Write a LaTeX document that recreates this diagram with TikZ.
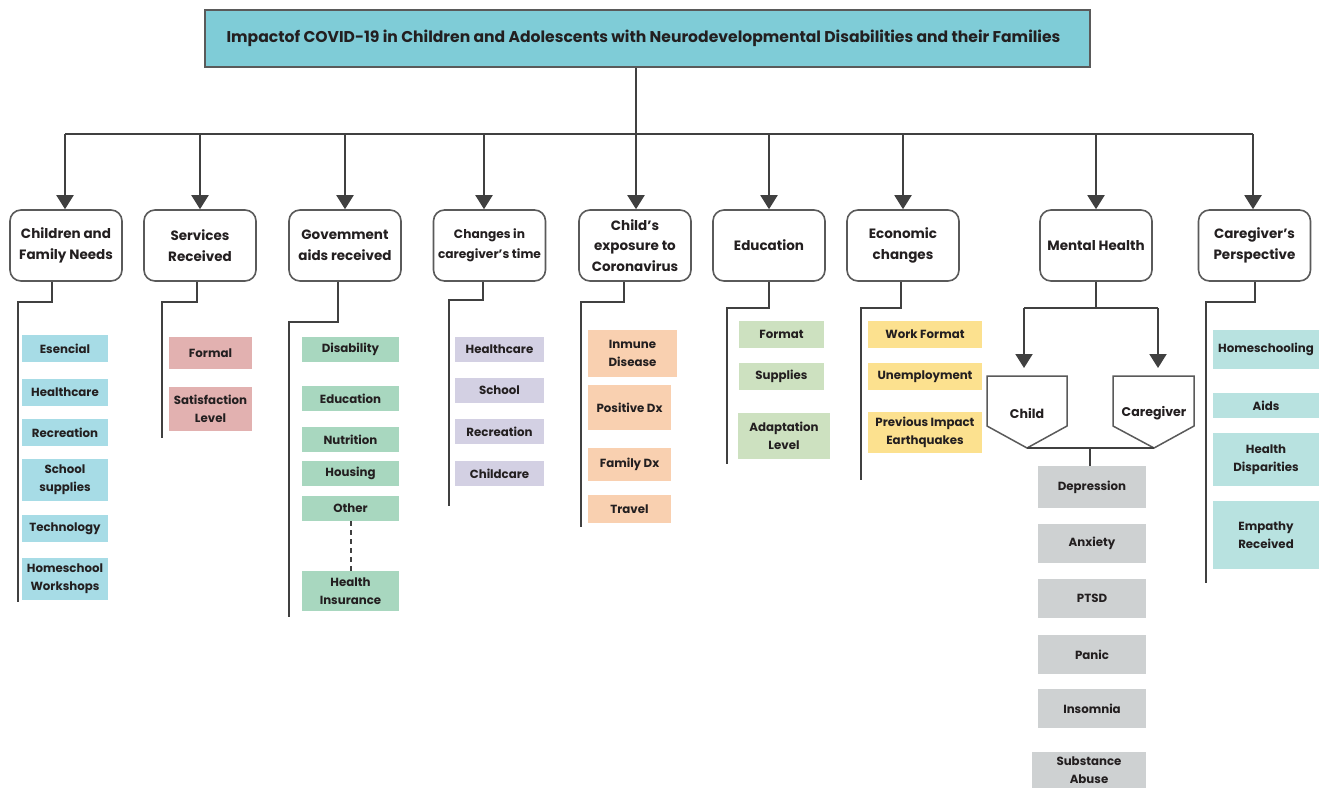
\documentclass[tikz,border=0pt]{standalone}
\usepackage{fontspec}
\setmainfont{Poppins}[UprightFont=* Bold]
\usetikzlibrary{arrows.meta}
\definecolor{txt}{HTML}{231F20}
\definecolor{ln}{HTML}{404040}
\definecolor{boxgray}{HTML}{5A5A5A}
\definecolor{titlec}{HTML}{7FCCD7}
\definecolor{cyanl}{HTML}{A7DCE6}
\definecolor{pinkl}{HTML}{E2B1B0}
\definecolor{greenl}{HTML}{A8D7BF}
\definecolor{lavl}{HTML}{D3D0E3}
\definecolor{peachl}{HTML}{F9D0B0}
\definecolor{lgreen}{HTML}{CDE1C0}
\definecolor{yell}{HTML}{FCE18F}
\definecolor{grayl}{HTML}{CED1D2}
\definecolor{teall}{HTML}{B8E2E0}
\tikzset{
  catbox/.style={draw=boxgray, line width=1.6pt, rounded corners=11pt, fill=white, align=center,
    font=\fontsize{13.5}{20.5}\selectfont, text=txt, inner sep=0pt, minimum width=112pt, minimum height=71pt},
  leafst/.style={align=center, inner sep=0pt, font=\fontsize{11.8}{18}\selectfont, text=txt},
  branch/.style={draw=ln, line width=2.4pt},
  conn/.style={draw=ln, line width=2pt},
  arr/.style={conn, -{Triangle[width=17pt,length=14pt]}},
  pent/.style={draw=boxgray, line width=1.5pt, fill=white},
  pentlabel/.style={text=txt, font=\fontsize{12.6}{16}\selectfont, inner sep=0pt},
}
\newcommand{\lbox}[7]{\node[leafst, fill=#6, minimum width={(#4-#2)*1pt}, minimum height={(#5-#3)*1pt}] (#1) at ({(#2+#4)/2},{(#3+#5)/2}) {#7};}
\begin{document}
\begin{tikzpicture}[x=1pt,y=-1pt]
\useasboundingbox[fill=white] (0,0) rectangle (1319,788);

% title
\node[draw=boxgray, fill=titlec, line width=1.2pt, minimum width=885pt, minimum height=57pt, inner sep=0pt] (title) at (647.5,38.5) {};
\node[text=txt, inner sep=0pt, font=\fontsize{15.6}{18}\selectfont] (tlabel) at (643.5,38.5)
  {Impactof COVID-19 in Children and Adolescents with Neurodevelopmental Disabilities and their Families};

% categories
\node[catbox] (c1) at (66,245.5) {Children and\\Family Needs};
\node[catbox] (c2) at (200,245.5) {Services\\Received};
\node[catbox] (c3) at (345,245.5) {Govemment\\aids received};
\node[catbox, font=\fontsize{12.2}{20.5}\selectfont] (c4) at (489.5,245.5) {Changes in\\caregiver’s time};
\node[catbox] (c5) at (635,245.5) {Child’s\\exposure to\\Coronavirus};
\node[catbox] (c6) at (769,245.5) {Education};
\node[catbox] (c7) at (903,245.5) {Economic\\changes};
\node[catbox] (c8) at (1096,245.5) {Mental Health};
\node[catbox] (c9) at (1254.5,245.5) {Caregiver’s\\Perspective};

% trunk
\coordinate (tj) at (636,134);
\coordinate (tl) at (65,134);
\coordinate (tr) at (1253,134);
\draw[conn] (title.south -| tj) -- (tj);
\draw[conn] (tl) -- (tr);
\foreach \i/\xx in {1/65,2/200,3/345,4/484,5/636,6/769,7/903,8/1096,9/1253}{
  \coordinate (a\i) at (\xx,134);
  \draw[arr] (a\i) -- (a\i |- c\i.north);
}

% branches
\foreach \i/\sx/\sy/\bx/\by in {1/52/302/18/602, 2/197/302/162/438, 3/338/322/289/617,
  4/483/300/449/506, 5/624/302/581/527, 6/769/308/727/464, 7/901/308/861/480, 9/1255/302/1206/583}{
  \coordinate (s\i) at (\sx,\sy);
  \coordinate (k\i) at (\bx,\sy);
  \coordinate (e\i) at (\bx,\by);
  \draw[branch] (s\i |- c\i.south) -- (s\i) -- (k\i) -- (e\i);
}

% leaves col 1
\lbox{l11}{22}{335}{108}{362}{cyanl}{Esencial}
\lbox{l12}{22}{379}{108}{406}{cyanl}{Healthcare}
\lbox{l13}{22}{419}{108}{446}{cyanl}{Recreation}
\lbox{l14}{22}{459}{108}{501}{cyanl}{School\\supplies}
\lbox{l15}{22}{515}{108}{542}{cyanl}{Technology}
\lbox{l16}{22}{558}{108}{600}{cyanl}{Homeschool\\Workshops}
% col 2
\lbox{l21}{169}{337}{252}{369}{pinkl}{Formal}
\lbox{l22}{169}{387}{252}{431}{pinkl}{Satisfaction\\Level}
% col 3
\lbox{l31}{302}{337}{399}{362}{greenl}{Disability}
\lbox{l32}{302}{386}{399}{411}{greenl}{Education}
\lbox{l33}{302}{427}{399}{452}{greenl}{Nutrition}
\lbox{l34}{302}{461}{399}{486}{greenl}{Housing}
\lbox{l35}{302}{496}{399}{521}{greenl}{Other}
\lbox{l36}{302}{571}{399}{611}{greenl}{Health\\Insurance}
\draw[conn, dash pattern=on 5pt off 4pt] (l35.south) -- (l36.north);
% col 4
\lbox{l41}{455}{337}{544}{362}{lavl}{Healthcare}
\lbox{l42}{455}{378}{544}{403}{lavl}{School}
\lbox{l43}{455}{419}{544}{444}{lavl}{Recreation}
\lbox{l44}{455}{461}{544}{486}{lavl}{Childcare}
% col 5
\lbox{l51}{588}{330}{677}{377}{peachl}{Inmune\\Disease}
\lbox{l52}{588}{385}{671}{430}{peachl}{Positive Dx}
\lbox{l53}{588}{448}{671}{481}{peachl}{Family Dx}
\lbox{l54}{588}{495}{671}{523}{peachl}{Travel}
% col 6
\lbox{l61}{739}{321}{824}{348}{lgreen}{Format}
\lbox{l62}{739}{363}{824}{390}{lgreen}{Supplies}
\lbox{l63}{738}{413}{830}{459}{lgreen}{Adaptation\\Level}
% col 7
\lbox{l71}{868}{321}{982}{348}{yell}{Work Format}
\lbox{l72}{868}{363}{982}{390}{yell}{Unemployment}
\lbox{l73}{868}{412}{982}{453}{yell}{Previous Impact\\Earthquakes}
% col 9
\lbox{l91}{1213}{330}{1319}{369}{teall}{Homeschooling}
\lbox{l92}{1213}{393}{1319}{418}{teall}{Aids}
\lbox{l93}{1213}{433}{1319}{486}{teall}{Health\\Disparities}
\lbox{l94}{1213}{501}{1319}{569}{teall}{Empathy\\Received}

% mental health
\coordinate (m0) at (1096,308);
\coordinate (ml) at (1024,308);
\coordinate (mr) at (1158,308);
\coordinate (mlt) at (1024,368);
\coordinate (mrt) at (1158,368);
\draw[conn] (c8.south) -- (m0);
\draw[conn] (ml) -- (mr);
\draw[arr] (ml) -- (mlt);
\draw[arr] (mr) -- (mrt);
\draw[pent] (987,376) -- (1067,376) -- (1067,426) -- (1027,448) -- (987,426) -- cycle;
\draw[pent] (1113,376) -- (1194,376) -- (1194,426) -- (1154,448) -- (1113,426) -- cycle;
\node[pentlabel] (child) at (1027,413) {Child};
\node[pentlabel] (cgv) at (1154,413) {Caregiver};
\coordinate (chtip) at (1027,448);
\coordinate (cgtip) at (1154,448);
\coordinate (mj) at (1090,448);
\draw[conn] (chtip) -- (cgtip);

\lbox{l81}{1038}{466}{1146}{508}{grayl}{Depression}
\lbox{l82}{1038}{524}{1146}{563}{grayl}{Anxiety}
\lbox{l83}{1038}{579}{1146}{618}{grayl}{PTSD}
\lbox{l84}{1038}{635}{1146}{674}{grayl}{Panic}
\lbox{l85}{1038}{689}{1146}{728}{grayl}{Insomnia}
\lbox{l86}{1032}{752}{1146}{788}{grayl}{Substance\\Abuse}
\draw[conn] (mj) -- (mj |- l81.north);
\end{tikzpicture}
\end{document}
